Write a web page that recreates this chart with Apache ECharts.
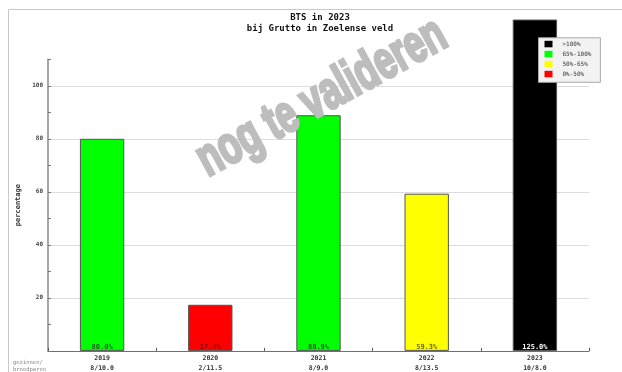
<!DOCTYPE html>
<html><head><meta charset="utf-8">
<script src="https://cdn.jsdelivr.net/npm/echarts@6/dist/echarts.min.js"></script>
<style>html,body{margin:0;padding:0;background:#fff}#c{width:622px;height:372px}</style>
</head><body><div id="c"></div>
<script>
// ---- data ----
const years = ['2019', '2020', '2021', '2022', '2023'];
const percentages = [80.0, 17.4, 88.9, 59.3, 125.0];
const countLabels = ['8/10.0', '2/11.5', '8/9.0', '8/13.5', '10/8.0'];
const yTickLabels = [20, 40, 60, 80, 100];
const legendLabels = ['>100%', '65%-100%', '50%-65%', '0%-50%'];
const classLower = [100, 65, 50, 0];
const classUpper = [Infinity, 100, 65, 50];

// ---- styles ----
const classColors = ['#000000', '#00ff00', '#ffff00', '#ff0000'];
const classTextColors = ['#ffffff', '#1a6a1a', '#6e6a00', '#8a0000'];
const MONO = '"DejaVu Sans Mono", monospace';

function classOf(v) {
  for (let i = 0; i < classLower.length; i++) {
    if (v > classLower[i] && v <= classUpper[i]) return i;
  }
  return classLower.length - 1;
}

const pieces = legendLabels.map((lab, i) => {
  const p = { label: lab, color: classColors[i] };
  if (classUpper[i] !== Infinity) p.lte = classUpper[i];
  if (classLower[i] === 0) p.gte = 0; else p.gt = classLower[i];
  return p;
});

const chart = echarts.init(document.getElementById('c'));
chart.setOption({
  backgroundColor: '#ffffff',
  animation: false,
  title: {
    text: 'BTS in 2023\nbij Grutto in Zoelense veld',
    left: 320, top: 11.5, padding: 0, textAlign: 'center',
    textStyle: { fontFamily: MONO, fontSize: 9, fontWeight: 'bold', color: '#111', lineHeight: 11.7 }
  },
  grid: { left: 48, right: 33, top: 59.3, bottom: 19.7, containLabel: false },
  xAxis: {
    type: 'category', data: years,
    axisLine: { lineStyle: { color: '#707070', width: 1 } },
    axisTick: { show: true, inside: true, length: 3, lineStyle: { color: '#555' } },
    axisLabel: {
      margin: 2, interval: 0,
      formatter: (v, i) => '{y|' + v + '}\n{v|' + countLabels[i] + '}',
      rich: {
        y: { fontFamily: MONO, fontSize: 6.5, fontWeight: 'bold', color: '#333', lineHeight: 10.4 },
        v: { fontFamily: MONO, fontSize: 6.5, fontWeight: 'bold', color: '#333', lineHeight: 10.4 }
      }
    },
    splitLine: { show: false }
  },
  yAxis: {
    type: 'value', min: 0, max: 110, interval: 10,
    name: 'percentage', nameLocation: 'middle', nameGap: 21,
    nameTextStyle: { fontFamily: MONO, fontSize: 7, fontWeight: 'bold', color: '#333' },
    axisLine: { show: true, lineStyle: { color: '#888', width: 1.5 } },
    axisTick: { show: true, inside: true, length: 3, lineStyle: { color: '#777' } },
    axisLabel: {
      margin: 5, fontFamily: MONO, fontSize: 6, fontWeight: 'bold', color: '#444',
      formatter: v => (yTickLabels.indexOf(v) >= 0 ? String(v) : '')
    },
    splitLine: { show: true, lineStyle: { color: ['#dcdcdc', 'rgba(0,0,0,0)'], width: 1 } }
  },
  visualMap: {
    type: 'piecewise', seriesIndex: 0, dimension: 1,
    pieces: pieces,
    orient: 'vertical', align: 'left',
    left: 538, top: 37.3,
    itemWidth: 8, itemHeight: 6.5, itemGap: 3.5, textGap: 10, itemSymbol: 'rect',
    padding: [3, 9, 5, 6],
    backgroundColor: '#f2f2f2', borderColor: '#aaaaaa', borderWidth: 1,
    textStyle: { fontFamily: MONO, fontSize: 6, color: '#333' },
    selectedMode: false, hoverLink: false
  },
  series: [{
    type: 'bar',
    data: percentages.map(v => ({ value: v, label: { color: classTextColors[classOf(v)] } })),
    barWidth: '41%', clip: false,
    itemStyle: { borderColor: '#555', borderWidth: 1 },
    label: {
      show: true, position: 'insideBottom', distance: 0.5,
      fontFamily: MONO, fontSize: 7, fontWeight: 'bold',
      formatter: p => Number(p.value).toFixed(1) + '%'
    }
  }],
  graphic: [
    { type: 'line', shape: { x1: 8.5, y1: 9.5, x2: 622, y2: 9.5 }, style: { stroke: '#c8c8c8', lineWidth: 1 }, silent: true },
    { type: 'line', shape: { x1: 8.5, y1: 9.5, x2: 8.5, y2: 372 }, style: { stroke: '#c8c8c8', lineWidth: 1 }, silent: true },
    { type: 'text', left: 13, top: 359.5, silent: true,
      style: { text: 'gezinnen/\nbroedparen', font: '5.5px ' + MONO, fill: '#888', lineHeight: 6.7 } },
    { type: 'text', x: 322, y: 98, rotation: 0.5, scaleX: 0.72, scaleY: 1.06, z: 100, silent: true,
      style: { text: 'nog te valideren', font: 'bold 50px "Liberation Sans Narrow", sans-serif',
        fill: '#bdbdbd', stroke: '#bdbdbd', lineWidth: 3, align: 'center', verticalAlign: 'middle' } }
  ]
});
</script></body></html>
